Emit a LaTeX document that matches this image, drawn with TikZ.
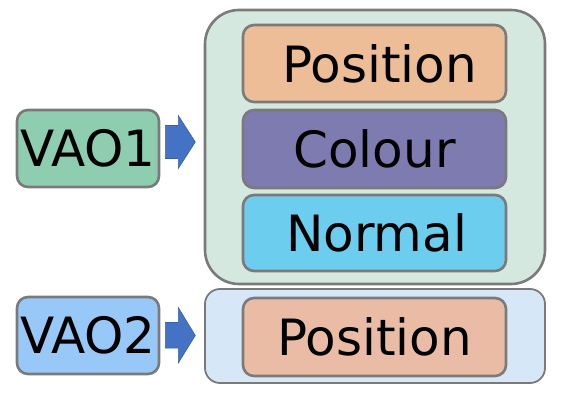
\documentclass[tikz,border=0pt]{standalone}
\usepackage{fontspec}
\setmainfont{DejaVu Sans}
\usetikzlibrary{calc}
\definecolor{vaoone}{HTML}{8ECDB0}
\definecolor{vaotwo}{HTML}{98C8F8}
\definecolor{contone}{HTML}{D5E8DF}
\definecolor{conttwo}{HTML}{D6E8F8}
\definecolor{posone}{HTML}{EDBD98}
\definecolor{postwo}{HTML}{EBBCA5}
\definecolor{colfill}{HTML}{7D7BB0}
\definecolor{normfill}{HTML}{6CCDEE}
\definecolor{arrfill}{HTML}{4472C4}
\definecolor{arrline}{HTML}{3A62A8}
\definecolor{edge}{HTML}{7A7A7A}
\tikzset{
  box/.style={draw=edge, line width=2.6pt, rounded corners=11pt, inner sep=0pt,
    font=\fontsize{50}{52}\selectfont, text=black},
  blockarrow/.style={fill=arrfill, draw=arrline, line width=0.6pt}
}
\begin{document}
\begin{tikzpicture}[x=1pt,y=-1pt]
\useasboundingbox (0,0) rectangle (567,403);
% containers
\node[box, fill=contone, rounded corners=34pt, minimum width=340pt, minimum height=274pt] (c1) at (375,147) {};
\node[box, fill=conttwo, line width=1.8pt, rounded corners=15pt, minimum width=340pt, minimum height=94pt] (c2) at (375,336) {};
% inner boxes
\node[box, fill=posone, minimum width=263pt, minimum height=77pt] (p1) at (374.5,63.5) {\hspace*{10pt}Position};
\node[box, fill=colfill, minimum width=263pt, minimum height=78pt] (col) at (374.5,149) {Colour};
\node[box, fill=normfill, minimum width=263pt, minimum height=76pt] (nor) at (374.5,233) {\hspace*{4pt}Normal};
\node[box, fill=postwo, minimum width=263pt, minimum height=78pt] (p2) at (374.5,337) {Position};
% VAO boxes
\node[box, fill=vaoone, minimum width=142pt, minimum height=77pt] (v1) at (88,148.5) {VAO1};
\node[box, fill=vaotwo, minimum width=142pt, minimum height=77pt] (v2) at (88,335.5) {VAO2};
% block arrows
\coordinate (a1) at ($(v1.east)+(5,-7)$);
\coordinate (a2) at ($(v2.east)+(5,0)$);
\draw[blockarrow] (a1) ++(0,-16) -- ++(13,0) -- ++(0,-10) -- ++(17,26.5) -- ++(-17,26.5) -- ++(0,-10) -- ++(-13,0) -- cycle;
\draw[blockarrow] (a2) ++(0,-13) -- ++(13,0) -- ++(0,-15) -- ++(17,28) -- ++(-17,27.5) -- ++(0,-15) -- ++(-13,0) -- cycle;
\end{tikzpicture}
\end{document}
